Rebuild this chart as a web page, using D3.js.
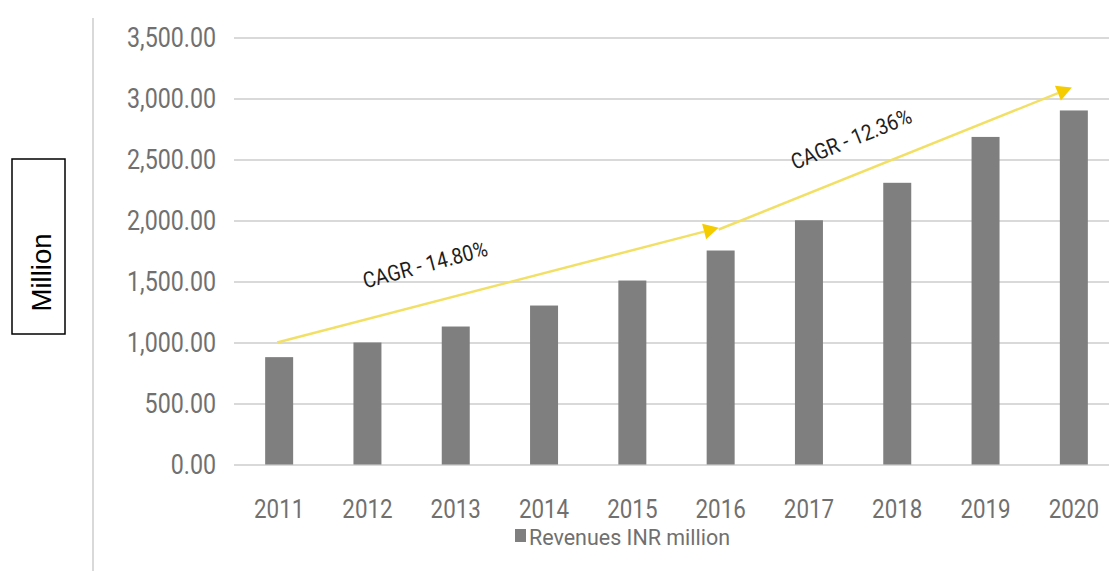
<!DOCTYPE html>
<html>
<head>
<meta charset="utf-8">
<script src="https://cdn.jsdelivr.net/npm/d3@7"></script>
<style>
  html, body { margin: 0; padding: 0; background: #fff; }
  svg { display: block; }
</style>
</head>
<body>
<svg id="chart" width="1109" height="571"></svg>
<script>
// Revenue series (INR million)
const years = ["2011", "2012", "2013", "2014", "2015", "2016", "2017", "2018", "2019", "2020"];
const revenues = [880, 1000, 1131, 1303, 1508, 1754, 2002, 2309, 2685, 2902];
const yTicks = [0, 500, 1000, 1500, 2000, 2500, 3000, 3500];
const seriesName = "Revenues INR million";
const unitLabel = "Million";

// CAGR trend arrows: start/end year and level for each arrow
const cagrLabels = ["CAGR - 14.80%", "CAGR - 12.36%"];
const cagrFromYear = ["2011", "2016"];
const cagrToYear = ["2016", "2020"];
const cagrFromValue = [1000, 1926];
const cagrToValue = [1940, 3090];

const svg = d3.select("#chart");
const W = 1109, H = 571;
const plotLeft = 235, plotRight = 1118;
const axisFont = "Roboto, 'Liberation Sans', sans-serif";
const axisColor = "#707070";

const x = d3.scaleBand()
  .domain(years)
  .range([plotLeft, plotRight])
  .paddingInner(0.683)
  .paddingOuter(0.3415);

const y = d3.scaleLinear()
  .domain([0, 3500])
  .range([464.5, 37.5]);

// squeeze text horizontally to mimic a condensed face
function squeeze(sel, f) {
  sel.each(function () {
    const len = this.getComputedTextLength();
    d3.select(this).attr("textLength", len * f).attr("lengthAdjust", "spacingAndGlyphs");
  });
}

// left frame line
svg.append("line")
  .attr("x1", 93).attr("x2", 93).attr("y1", 18).attr("y2", H)
  .attr("stroke", "#d9d9d9").attr("stroke-width", 2);

// unit box
svg.append("rect")
  .attr("x", 12).attr("y", 159).attr("width", 53).attr("height", 175)
  .attr("fill", "none").attr("stroke", "#000").attr("stroke-width", 1.5);
svg.append("text")
  .attr("transform", "translate(42,272.5) rotate(-90)")
  .attr("text-anchor", "middle")
  .attr("dominant-baseline", "central")
  .attr("font-family", "'Liberation Sans', Arial, sans-serif")
  .attr("font-size", 27)
  .attr("fill", "#000")
  .text(unitLabel)
  .call(sel => sel.attr("textLength", 78).attr("lengthAdjust", "spacingAndGlyphs"));

// y axis with gridlines
const yAxis = svg.append("g")
  .attr("transform", `translate(${plotLeft - 1},0)`)
  .call(d3.axisLeft(y)
    .tickValues(yTicks)
    .tickSize(-(plotRight - plotLeft + 1))
    .tickPadding(18)
    .tickFormat(d3.format(",.2f")));
yAxis.select(".domain").remove();
yAxis.selectAll(".tick line").attr("stroke", "#d9d9d9").attr("stroke-width", 2);
yAxis.selectAll(".tick text")
  .attr("font-family", axisFont)
  .attr("font-size", 27)
  .attr("fill", axisColor)
  .call(squeeze, 0.86);

// bars
svg.append("g")
  .selectAll("rect")
  .data(years.map((yr, i) => ({ yr, v: revenues[i] })))
  .join("rect")
  .attr("x", d => x(d.yr))
  .attr("width", x.bandwidth())
  .attr("y", d => y(d.v))
  .attr("height", d => y(0) - y(d.v))
  .attr("fill", "#7f7f7f");

// x axis labels
const xAxis = svg.append("g")
  .attr("transform", `translate(0,${y(0)})`)
  .call(d3.axisBottom(x).tickSize(0).tickPadding(35));
xAxis.select(".domain").remove();
xAxis.selectAll(".tick text")
  .attr("font-family", axisFont)
  .attr("font-size", 26)
  .attr("fill", axisColor)
  .call(squeeze, 0.86);

// legend
svg.append("rect")
  .attr("x", 515).attr("y", 529).attr("width", 11).attr("height", 13)
  .attr("fill", "#7f7f7f");
svg.append("text")
  .attr("x", 529).attr("y", 544.5)
  .attr("font-family", axisFont)
  .attr("font-size", 21.5)
  .attr("fill", axisColor)
  .text(seriesName)
  .call(sel => sel.attr("textLength", 201).attr("lengthAdjust", "spacingAndGlyphs"));

// CAGR arrows
const arrows = cagrLabels.map((label, i) => ({
  label,
  x1: x(cagrFromYear[i]) + x.bandwidth() / 2 - 2,
  y1: y(cagrFromValue[i]),
  x2: x(cagrToYear[i]) + x.bandwidth() / 2 - 2,
  y2: y(cagrToValue[i])
}));

const ag = svg.append("g");
arrows.forEach((a, i) => {
  const ang = Math.atan2(a.y2 - a.y1, a.x2 - a.x1);
  const headLen = 15, headHalf = 8;
  const bx = a.x2 - headLen * Math.cos(ang), by = a.y2 - headLen * Math.sin(ang);
  ag.append("line")
    .attr("x1", a.x1).attr("y1", a.y1).attr("x2", bx).attr("y2", by)
    .attr("stroke", "#f2e066").attr("stroke-width", 2.5);
  const px = -Math.sin(ang) * headHalf, py = Math.cos(ang) * headHalf;
  ag.append("path")
    .attr("d", `M${a.x2},${a.y2}L${bx + px},${by + py}L${bx - px},${by - py}Z`)
    .attr("fill", "#f5cc00");
});

// CAGR labels
const labelPos = [
  { cx: 427, cy: 272, rot: -15 },
  { cx: 854, cy: 146, rot: -22 }
];
cagrLabels.forEach((t, i) => {
  svg.append("text")
    .attr("transform", `translate(${labelPos[i].cx},${labelPos[i].cy}) rotate(${labelPos[i].rot})`)
    .attr("text-anchor", "middle")
    .attr("font-family", axisFont)
    .attr("font-size", 22)
    .attr("fill", "#1e1e1e")
    .text(t)
    .call(squeeze, 0.88);
});
</script>
</body>
</html>
